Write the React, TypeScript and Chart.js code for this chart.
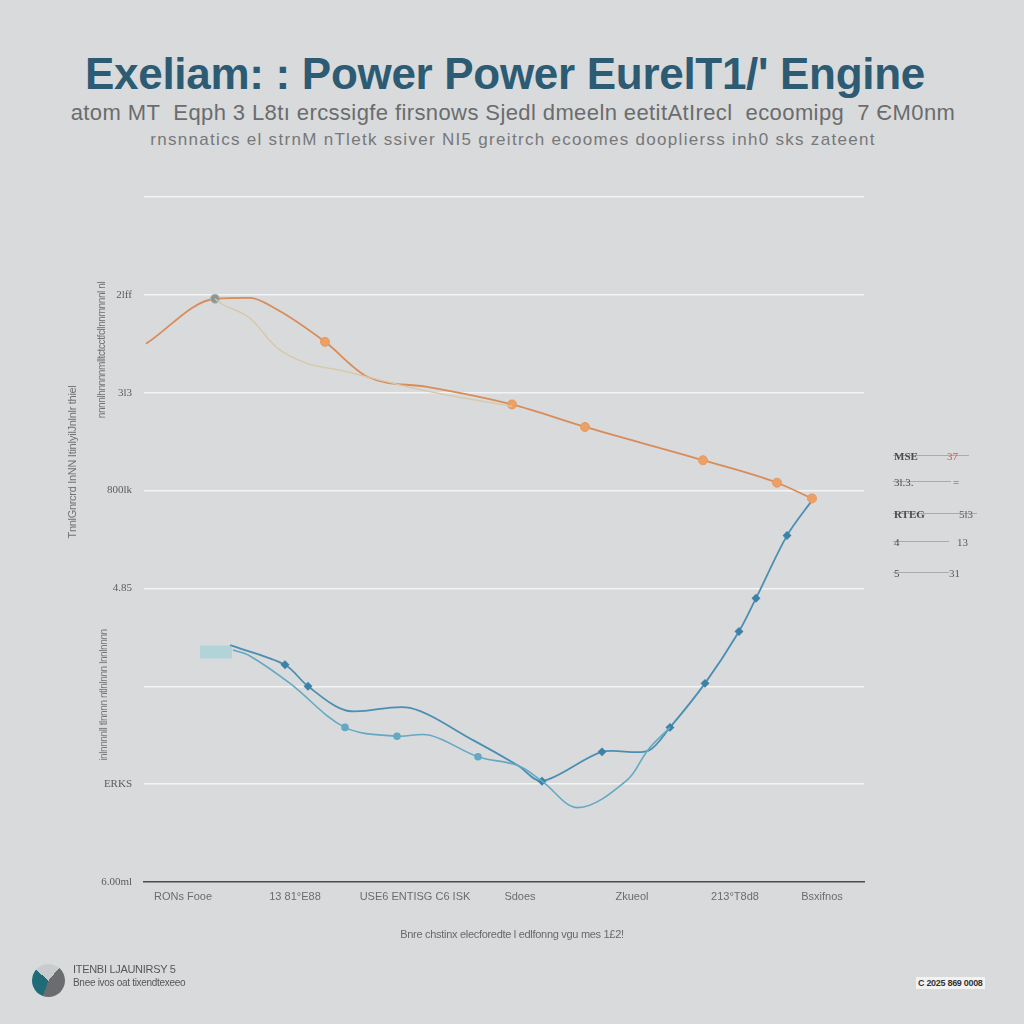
import React, { useEffect, useRef } from "react";
import { Chart, registerables } from "chart.js";

Chart.register(...registerables);

// ---- data (x in chart units, y in chart units) ----
const xTickValues = [3.9, 15.1, 27.1, 37.6, 48.8, 59.1, 67.8];
const xTickLabels = ["RONs Fooe", "13 81°E88", "USE6 ENTISG C6 ISK", "Sdoes", "Zkueol", "213°T8d8", "Bsxifnos"];
const yTickLabels = ["6.00ml", "ERKS", "", "4.85", "800lk", "3l3", "2lff", ""];

const orangeX = [0.2, 7.1, 10.6, 13.3, 18.1, 22.4, 28.3, 36.8, 44.1, 55.9, 63.3, 66.8];
const orangeY = [5.5, 5.96, 5.97, 5.85, 5.52, 5.16, 5.06, 4.88, 4.65, 4.31, 4.08, 3.92];
const orangeMarker = [0, 1, 0, 0, 1, 0, 0, 1, 1, 1, 1, 1];

const paleX = [7.1, 7.6, 10.6, 13.3, 16.3, 19.6, 22.4, 28.6, 36.8];
const paleY = [5.96, 5.92, 5.76, 5.46, 5.3, 5.23, 5.16, 5.01, 4.86];

const blueAX = [8.6, 14.1, 16.4, 20.3, 26.6, 32.9, 37.4, 39.8, 45.8, 50.4, 52.6, 56.1, 59.5, 61.2, 64.3, 66.8];
const blueAY = [2.42, 2.22, 2.0, 1.75, 1.78, 1.45, 1.19, 1.03, 1.33, 1.34, 1.58, 2.03, 2.56, 2.9, 3.54, 3.9];
const blueAMarker = [0, 1, 1, 0, 0, 0, 0, 1, 1, 0, 1, 1, 1, 1, 1, 0];

const blueBX = [8.9, 10.6, 14.6, 20.1, 25.3, 28.6, 33.4, 37.4, 39.8, 43.4, 48.3, 50.4, 52.6];
const blueBY = [2.37, 2.31, 2.03, 1.58, 1.49, 1.5, 1.28, 1.19, 1.03, 0.76, 1.04, 1.35, 1.58];
const blueBMarker = [0, 0, 0, 1, 1, 0, 1, 0, 0, 0, 0, 0, 0];

const glowX = [5.6, 8.8];
const glowY = [2.35, 2.35];

const legendNames = ["MSE", "3l.3.", "RTEG", "4", "5"];
const legendValues = ["37", "=", "5l3", "13", "31"];

const pts = (xs: number[], ys: number[]) => xs.map((x, i) => ({ x, y: ys[i] }));

export default function App() {
  const ref = useRef<HTMLCanvasElement>(null);

  useEffect(() => {
    const ctx = ref.current!.getContext("2d")!;
    const chart = new Chart(ctx, {
      type: "line",
      data: {
        datasets: [
          {
            data: pts(glowX, glowY),
            borderColor: "rgba(130,205,215,0.45)",
            borderWidth: 13,
            pointRadius: 0,
            borderCapStyle: "butt",
          },
          {
            data: pts(paleX, paleY),
            borderColor: "#d6c7a6",
            borderWidth: 1.3,
            pointRadius: 0,
            cubicInterpolationMode: "monotone",
          },
          {
            data: pts(orangeX, orangeY),
            borderColor: "#d88c58",
            borderWidth: 1.8,
            cubicInterpolationMode: "monotone",
            pointRadius: orangeMarker.map((m) => (m ? 4.5 : 0)),
            pointBackgroundColor: orangeMarker.map((m, i) => (i === 1 ? "#8e9694" : "#eda062")),
            pointBorderColor: orangeMarker.map((m, i) => (i === 1 ? "#b0b4b2" : "#e49a62")),
            pointBorderWidth: 1,
          },
          {
            data: pts(blueBX, blueBY),
            borderColor: "#63a9c4",
            borderWidth: 1.6,
            tension: 0.35,
            pointRadius: blueBMarker.map((m) => (m ? 3 : 0)),
            pointBackgroundColor: "#63a9c4",
            pointBorderColor: "#63a9c4",
          },
          {
            data: pts(blueAX, blueAY),
            borderColor: "#4a8fb3",
            borderWidth: 1.8,
            tension: 0.3,
            pointRadius: blueAMarker.map((m) => (m ? 3.2 : 0)),
            pointStyle: "rectRot",
            pointBackgroundColor: "#3d82a8",
            pointBorderColor: "#3d82a8",
          },
        ],
      },
      options: {
        animation: false,
        responsive: false,
        plugins: { legend: { display: false }, tooltip: { enabled: false }, title: { display: false } },
        layout: { padding: { left: 84, right: 160, top: 197, bottom: 102 } },
        scales: {
          x: {
            type: "linear",
            min: 0,
            max: 72,
            afterFit: (s: any) => {
              s.height = 40;
            },
            afterBuildTicks: (s: any) => {
              s.ticks = xTickValues.map((v) => ({ value: v }));
            },
            ticks: {
              autoSkip: false,
              maxRotation: 0,
              padding: 8,
              color: "#6a6d70",
              font: { family: "Liberation Sans", size: 11 },
              callback: (v: any) => {
                const i = xTickValues.indexOf(Number(v));
                return i >= 0 ? xTickLabels[i] : "";
              },
            },
            grid: { display: false, drawTicks: false },
            border: { display: true, color: "#4a4d50", width: 1.6 },
          },
          y: {
            type: "linear",
            min: 0,
            max: 7,
            afterFit: (s: any) => {
              s.width = 60;
            },
            ticks: {
              stepSize: 1,
              padding: 12,
              color: "#5a5d60",
              font: { family: "Liberation Serif", size: 11 },
              callback: (v: any) => yTickLabels[Math.round(Number(v))] ?? "",
            },
            grid: {
              color: (c: any) => (c.tick && c.tick.value === 0 ? "rgba(0,0,0,0)" : "#f4f4f4"),
              lineWidth: 1.5,
              drawTicks: false,
            },
            border: { display: false },
          },
        },
      },
    });
    return () => chart.destroy();
  }, []);

  const abs = (s: React.CSSProperties): React.CSSProperties => ({ position: "absolute", ...s });

  return (
    <div
      style={{
        position: "absolute",
        left: 0,
        top: 0,
        width: 1024,
        height: 1024,
        background: "#d9dadb",
        overflow: "hidden",
        fontFamily: "Liberation Sans, Arial, sans-serif",
      }}
    >
      <div
        style={abs({
          left: 0,
          width: 1010,
          top: 49,
          textAlign: "center",
          fontSize: 44,
          fontWeight: 700,
          color: "#2c5b73",
          letterSpacing: -0.3,
        })}
      >
        Exeliam: : Power Power EurelT1/' Engine
      </div>
      <div
        style={abs({
          left: 0,
          width: 1026,
          top: 100,
          textAlign: "center",
          fontSize: 22,
          color: "#6a6c6e",
          letterSpacing: 0.4,
        })}
      >
        atom MT&nbsp; Eqph 3 L8tı ercssigfe firsnows Sjedl dmeeln eetitAtIrecl&nbsp; ecoomipg&nbsp; 7 ЄM0nm
      </div>
      <div
        style={abs({
          left: 0,
          width: 1026,
          top: 130,
          textAlign: "center",
          fontSize: 17,
          color: "#76787a",
          letterSpacing: 1.3,
        })}
      >
        rnsnnatics el strnM nTletk ssiver NI5 greitrch ecoomes dooplierss inh0 sks zateent
      </div>

      <canvas ref={ref} width={1024} height={1024} style={abs({ left: 0, top: 0 })} />

      {/* vertical axis captions */}
      <div
        style={abs({
          left: 72,
          top: 462,
          transform: "translate(-50%,-50%) rotate(-90deg)",
          fontSize: 11,
          color: "#6f7275",
          whiteSpace: "nowrap",
          letterSpacing: -0.3,
        })}
      >
        TnnlGnrcrd InNN ItinIyilJnlnlr thiel
      </div>
      <div
        style={abs({
          left: 101,
          top: 350,
          transform: "translate(-50%,-50%) rotate(-90deg)",
          fontSize: 10,
          color: "#6f7275",
          whiteSpace: "nowrap",
          letterSpacing: -0.4,
        })}
      >
        nnnnlhnnnnmlltctcctfcllnnrnnnnl nl
      </div>
      <div
        style={abs({
          left: 103,
          top: 695,
          transform: "translate(-50%,-50%) rotate(-90deg)",
          fontSize: 10,
          color: "#74777a",
          whiteSpace: "nowrap",
          letterSpacing: -0.4,
        })}
      >
        inlnnnnll tlnnnn ntlnlnnn lnnlnnnn
      </div>

      {/* x axis caption */}
      <div
        style={abs({
          left: 0,
          width: 1024,
          top: 928,
          textAlign: "center",
          fontSize: 11,
          color: "#66696c",
          letterSpacing: -0.3,
        })}
      >
        Bnre chstinx elecforedte l edlfonng vgu mes 1£2!
      </div>

      {/* legend */}
      {legendNames.map((n, i) => {
        const top = [450, 476, 508, 536, 567][i];
        return (
          <div key={i} style={abs({ left: 891, top, width: 90, height: 18 })}>
            <div
              style={abs({
                left: 2,
                top: 5,
                width: [76, 58, 84, 56, 56][i],
                borderTop: "1px solid #a9abad",
              })}
            />
            <span
              style={abs({
                left: 3,
                top: 0,
                fontSize: 11,
                fontWeight: i === 0 || i === 2 ? 700 : 400,
                color: "#4a4d50",
                fontFamily: "Liberation Serif, serif",
              })}
            >
              {n}
            </span>
            <span
              style={abs({
                left: [56, 62, 68, 66, 58][i],
                top: 0,
                fontSize: 11,
                color: i === 0 ? "#d8553a" : "#5a5d60",
                fontFamily: "Liberation Serif, serif",
              })}
            >
              {legendValues[i]}
            </span>
          </div>
        );
      })}

      {/* footer */}
      <div
        style={abs({
          left: 32,
          top: 964,
          width: 33,
          height: 33,
          borderRadius: "50%",
          background: "conic-gradient(from 200deg, #1f6c78 0deg 110deg, #c9cccd 110deg 200deg, #6a6c70 200deg 360deg)",
        })}
      />
      <div style={abs({ left: 73, top: 963, fontSize: 11, color: "#55585b", letterSpacing: -0.3 })}>
        ITENBI LJAUNIRSY 5
      </div>
      <div style={abs({ left: 73, top: 977, fontSize: 10, color: "#55585b", letterSpacing: -0.3 })}>
        Bnee ivos oat tixendtexeeo
      </div>
      <div
        style={abs({
          left: 916,
          top: 977,
          padding: "1px 2px",
          background: "#f2f2f2",
          fontSize: 9,
          fontWeight: 700,
          color: "#333",
          letterSpacing: -0.3,
        })}
      >
        C 2025 869 0008
      </div>
    </div>
  );
}
